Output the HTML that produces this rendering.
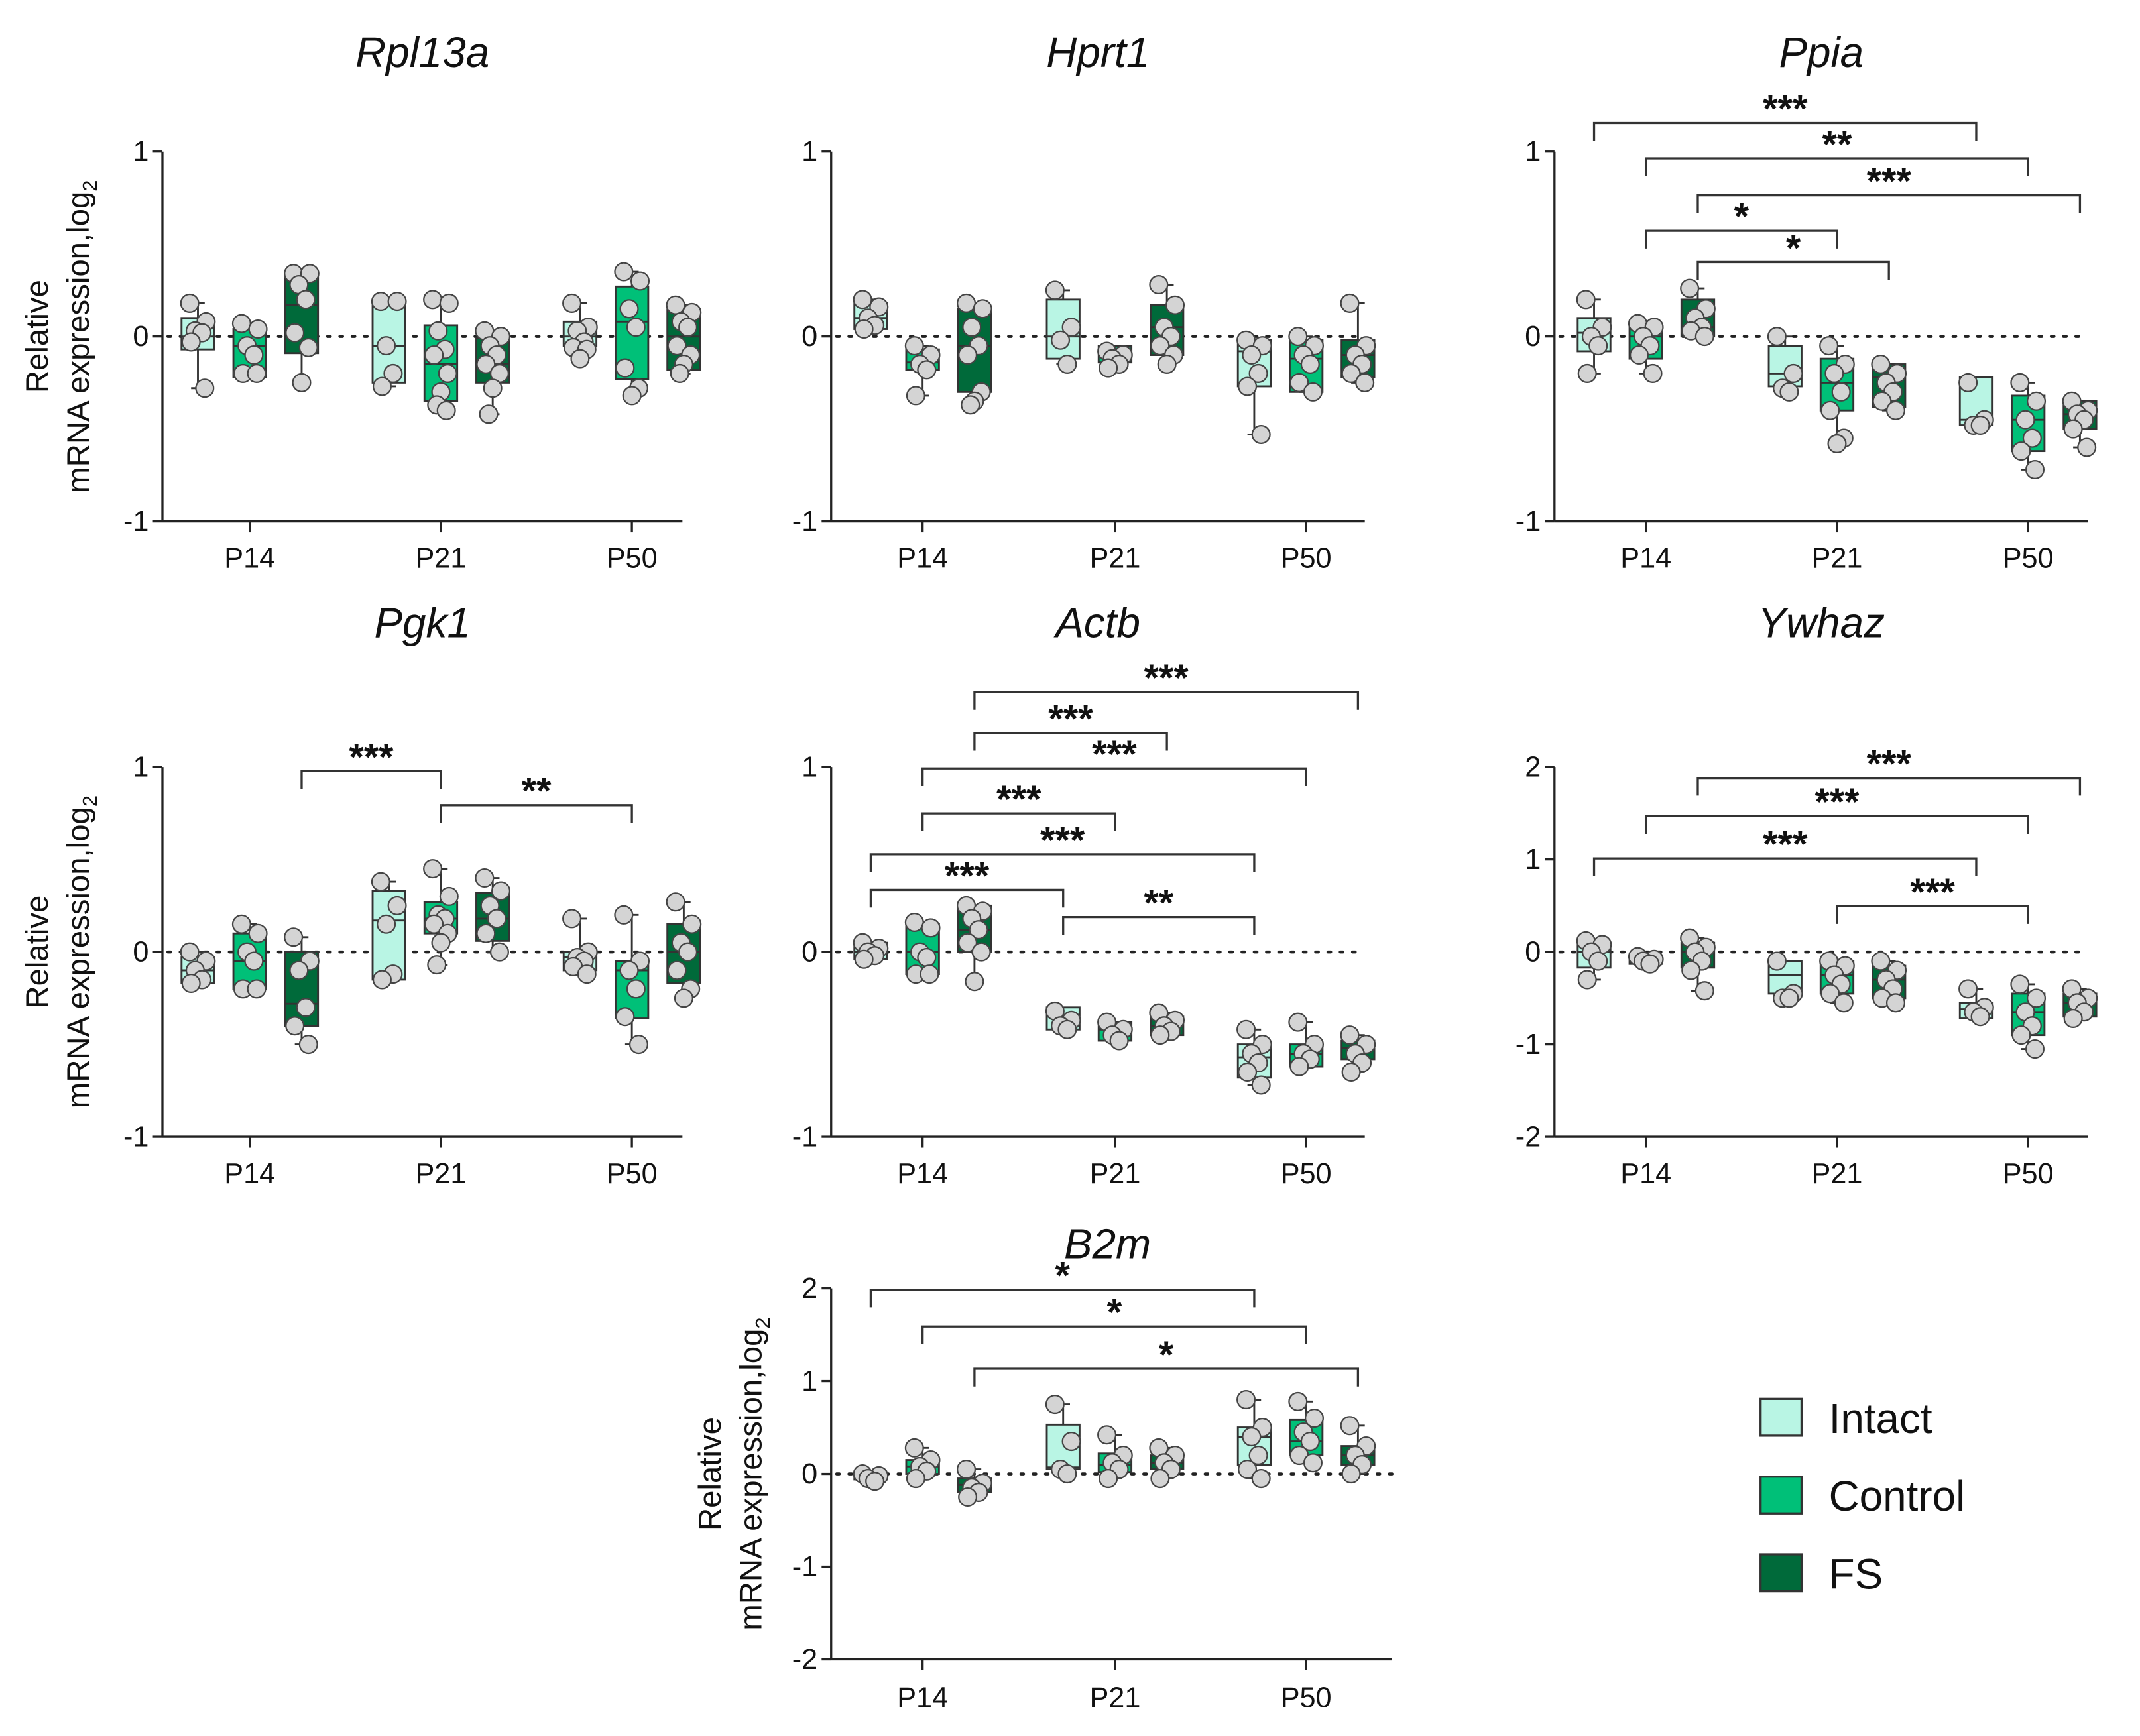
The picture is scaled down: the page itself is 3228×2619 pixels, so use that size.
<!DOCTYPE html>
<html><head><meta charset="utf-8">
<style>
html,body{margin:0;padding:0;background:#fff}
svg{display:block}
text{font-family:"Liberation Sans",Arial,sans-serif;fill:#111}
</style></head>
<body>
<svg id="fig" width="3228" height="2619" viewBox="0 0 1568 1272" xmlns="http://www.w3.org/2000/svg"></svg>
<script>
// ---------- data ----------
const categories = ["P14","P21","P50"];
const conditions = ["Intact","Control","FS"];
// boxes: [q1, median, q3] per (category x condition)
const rpl13aBoxes = [[-0.07,0.0,0.1],[-0.22,-0.05,0.04],[-0.09,0.17,0.33],[-0.25,-0.05,0.2],[-0.35,-0.15,0.06],[-0.25,-0.15,-0.01],[-0.05,0.0,0.08],[-0.23,0.08,0.27],[-0.18,0.0,0.15]];
const rpl13aPoints = [[0.18,0.08,0.03,0.02,-0.03,-0.28],[0.07,0.04,-0.05,-0.1,-0.2,-0.2],[0.34,0.34,0.28,0.2,0.02,-0.06,-0.25],[0.19,0.19,-0.05,-0.2,-0.27],[0.2,0.18,0.03,-0.07,-0.1,-0.2,-0.3,-0.37,-0.4],[0.03,0.0,-0.05,-0.1,-0.15,-0.2,-0.28,-0.42],[0.18,0.05,0.03,-0.03,-0.06,-0.07,-0.12],[0.35,0.3,0.15,0.05,-0.17,-0.28,-0.32],[0.17,0.13,0.08,0.05,-0.05,-0.1,-0.15,-0.2]];
const hprt1Boxes = [[0.04,0.1,0.18],[-0.18,-0.14,-0.07],[-0.3,-0.05,0.15],[-0.12,0.0,0.2],[-0.14,-0.1,-0.05],[-0.1,0.05,0.17],[-0.27,-0.08,-0.02],[-0.3,-0.12,-0.02],[-0.22,-0.1,-0.02]];
const hprt1Points = [[0.2,0.16,0.1,0.06,0.04],[-0.05,-0.1,-0.15,-0.18,-0.32],[0.18,0.15,0.05,-0.05,-0.1,-0.3,-0.35,-0.37],[0.25,0.05,-0.02,-0.15],[-0.08,-0.1,-0.12,-0.15,-0.17],[0.28,0.17,0.05,0.0,-0.05,-0.1,-0.15],[-0.02,-0.05,-0.1,-0.2,-0.27,-0.53],[0.0,-0.05,-0.1,-0.15,-0.25,-0.3],[0.18,-0.05,-0.1,-0.15,-0.2,-0.25]];
const ppiaBoxes = [[-0.08,0.02,0.1],[-0.12,0.0,0.07],[0.0,0.05,0.2],[-0.27,-0.2,-0.05],[-0.4,-0.25,-0.12],[-0.38,-0.22,-0.15],[-0.48,-0.45,-0.22],[-0.62,-0.45,-0.32],[-0.5,-0.42,-0.35]];
const ppiaPoints = [[0.2,0.05,0.0,-0.05,-0.2],[0.07,0.05,0.0,-0.05,-0.1,-0.2],[0.26,0.15,0.1,0.05,0.03,0.0],[0.0,-0.2,-0.28,-0.3],[-0.05,-0.15,-0.2,-0.3,-0.4,-0.55,-0.58],[-0.15,-0.2,-0.25,-0.3,-0.35,-0.4],[-0.25,-0.45,-0.48,-0.48],[-0.25,-0.35,-0.45,-0.55,-0.62,-0.72],[-0.35,-0.4,-0.42,-0.45,-0.5,-0.6]];
const pgk1Boxes = [[-0.17,-0.1,-0.03],[-0.2,-0.05,0.1],[-0.4,-0.28,0.0],[-0.15,0.17,0.33],[0.1,0.18,0.27],[0.06,0.18,0.32],[-0.1,-0.03,0.0],[-0.36,-0.1,-0.05],[-0.17,0.0,0.15]];
const pgk1Points = [[0.0,-0.05,-0.1,-0.15,-0.17],[0.15,0.1,0.0,-0.05,-0.2,-0.2],[0.08,-0.05,-0.1,-0.3,-0.4,-0.5],[0.38,0.25,0.15,-0.12,-0.15],[0.45,0.3,0.2,0.18,0.15,0.1,0.05,-0.07],[0.4,0.33,0.25,0.18,0.1,0.0],[0.18,0.0,-0.03,-0.05,-0.08,-0.12],[0.2,-0.05,-0.1,-0.2,-0.35,-0.5],[0.27,0.15,0.05,0.0,-0.1,-0.2,-0.25]];
const actbBoxes = [[-0.04,0.0,0.05],[-0.12,0.0,0.15],[0.0,0.12,0.25],[-0.42,-0.35,-0.3],[-0.48,-0.42,-0.38],[-0.45,-0.4,-0.35],[-0.68,-0.57,-0.5],[-0.62,-0.55,-0.5],[-0.58,-0.52,-0.48]];
const actbPoints = [[0.05,0.02,0.0,-0.02,-0.04],[0.16,0.13,0.0,-0.03,-0.12,-0.12],[0.25,0.22,0.18,0.12,0.05,0.0,-0.16],[-0.32,-0.37,-0.4,-0.42],[-0.38,-0.42,-0.45,-0.48],[-0.33,-0.37,-0.4,-0.43,-0.45],[-0.42,-0.5,-0.55,-0.6,-0.65,-0.72],[-0.38,-0.5,-0.55,-0.58,-0.62],[-0.45,-0.5,-0.55,-0.6,-0.65]];
const ywhazBoxes = [[-0.17,0.0,0.1],[-0.13,-0.08,-0.05],[-0.17,0.0,0.1],[-0.45,-0.25,-0.1],[-0.45,-0.25,-0.1],[-0.5,-0.3,-0.15],[-0.72,-0.62,-0.55],[-0.9,-0.65,-0.45],[-0.7,-0.55,-0.45]];
const ywhazPoints = [[0.12,0.08,0.0,-0.1,-0.3],[-0.05,-0.08,-0.1,-0.13],[0.15,0.05,0.0,-0.1,-0.2,-0.42],[-0.1,-0.45,-0.5,-0.5],[-0.1,-0.15,-0.25,-0.35,-0.45,-0.55],[-0.1,-0.2,-0.3,-0.4,-0.5,-0.55],[-0.4,-0.6,-0.65,-0.7],[-0.35,-0.5,-0.65,-0.8,-0.9,-1.05],[-0.4,-0.5,-0.55,-0.65,-0.72]];
const b2mBoxes = [[-0.06,-0.03,-0.02],[0.0,0.08,0.15],[-0.2,-0.12,-0.05],[0.05,0.07,0.53],[0.02,0.1,0.22],[0.05,0.12,0.2],[0.1,0.4,0.5],[0.2,0.35,0.58],[0.1,0.2,0.3]];
const b2mPoints = [[0.0,-0.02,-0.05,-0.08],[0.28,0.15,0.08,0.03,-0.05],[0.05,-0.1,-0.15,-0.2,-0.25],[0.75,0.35,0.05,0.0],[0.42,0.2,0.12,0.05,-0.05],[0.28,0.2,0.12,0.05,-0.05],[0.8,0.5,0.4,0.2,0.05,-0.05],[0.78,0.6,0.45,0.35,0.2,0.12],[0.52,0.3,0.2,0.1,0.0]];
const tickLabels1 = ["-1","0","1"];
const tickLabels2 = ["-2","-1","0","1","2"];
const ywhazTickLabels = ["-2","-1","0","1","2"];
// significance brackets: [fromIndex, toIndex, label] (index = category*3 + condition)
const ppiaSig = [[0,6,"***"],[1,7,"**"],[2,8,"***"],[1,4,"*"],[2,5,"*"]];
const pgk1Sig = [[2,4,"***"],[4,7,"**"]];
const actbSig = [[2,8,"***"],[2,5,"***"],[1,7,"***"],[1,4,"***"],[0,6,"***"],[0,3,"***"],[3,6,"**"]];
const ywhazSig = [[2,8,"***"],[1,7,"***"],[0,6,"***"],[4,7,"***"]];
const b2mSig = [[0,6,"*"],[1,7,"*"],[2,8,"*"]];

// ---------- layout ----------
const NS="http://www.w3.org/2000/svg";
const svg=document.getElementById('fig');
const fills=["#b9f5e4","#00c078","#006a3a"];
function mk(tag,attrs,parent){const e=document.createElementNS(NS,tag);for(const k in attrs)e.setAttribute(k,attrs[k]);(parent||svg).appendChild(e);return e;}

const panels=[
 {id:"rpl13a",title:"Rpl13a",ax:119,cx:[183,323,463],end:500,yT:111,yB:382,vmin:-1,vmax:1,ticks:tickLabels1,boxes:rpl13aBoxes,pts:rpl13aPoints,sig:[],tY:37,lY:408},
 {id:"hprt1",title:"Hprt1",ax:609,cx:[676,817,957],end:1000,yT:111,yB:382,vmin:-1,vmax:1,ticks:tickLabels1,boxes:hprt1Boxes,pts:hprt1Points,sig:[],tY:37,lY:408,noTitleY:true},
 {id:"ppia",title:"Ppia",ax:1139,cx:[1206,1346,1486],end:1530,yT:111,yB:382,vmin:-1,vmax:1,ticks:tickLabels1,boxes:ppiaBoxes,pts:ppiaPoints,sig:ppiaSig,sigY:[90,116,143,169,192],tY:37,lY:408,noTitleY:true},
 {id:"pgk1",title:"Pgk1",ax:119,cx:[183,323,463],end:500,yT:562,yB:833,vmin:-1,vmax:1,ticks:tickLabels1,boxes:pgk1Boxes,pts:pgk1Points,sig:pgk1Sig,sigY:[565,590],tY:455,lY:859},
 {id:"actb",title:"Actb",ax:609,cx:[676,817,957],end:1000,yT:562,yB:833,vmin:-1,vmax:1,ticks:tickLabels1,boxes:actbBoxes,pts:actbPoints,sig:actbSig,sigY:[507,537,563,596,626,652,672],tY:455,lY:859,noTitleY:true},
 {id:"ywhaz",title:"Ywhaz",ax:1139,cx:[1206,1346,1486],end:1530,yT:562,yB:833,vmin:-2,vmax:2,ticks:ywhazTickLabels,boxes:ywhazBoxes,pts:ywhazPoints,sig:ywhazSig,sigY:[570,598,629,664],tY:455,lY:859,noTitleY:true},
 {id:"b2m",title:"B2m",ax:609,cx:[676,817,957],end:1020,yT:944,yB:1216,vmin:-2,vmax:2,ticks:tickLabels2,boxes:b2mBoxes,pts:b2mPoints,sig:b2mSig,sigY:[945,972,1003],tY:910,lY:1243,ytx:[520,550]}
];
const offs=[-38,0,38];
const jit=[-6,6,-2,3,-5,5,0,-3,4];

panels.forEach(p=>{
  const g=mk('g',{});
  
  
  const y=v=>p.yB-(v-p.vmin)/(p.vmax-p.vmin)*(p.yB-p.yT);
  const bx=i=>p.cx[Math.floor(i/3)]+offs[i%3];
  const t=mk('text',{x:(p.ax+p.end)/2+(p.id==="b2m"?-3:0),y:p.tY+12,'text-anchor':'middle','font-size':31,'font-style':'italic'},g);
  t.textContent=p.title;
  
  if(!p.noTitleY){
    const tx=p.ytx||[27,57];
    const my=(p.yT+p.yB)/2;
    const a=mk('text',{x:0,y:0,transform:`translate(${tx[0]+8},${my}) rotate(-90)`,'text-anchor':'middle','font-size':23},g);
    a.textContent="Relative";
    
    const b=mk('text',{x:0,y:0,transform:`translate(${tx[1]+8},${my}) rotate(-90)`,'text-anchor':'middle','font-size':23},g);
    b.innerHTML='mRNA expression,log<tspan font-size="15" dy="6">2</tspan>';
    
  }
  const ya=mk('line',{x1:p.ax,y1:p.yT,x2:p.ax,y2:p.yB,stroke:'#222','stroke-width':1.6},g);
  
  const xa=mk('line',{x1:p.ax,y1:p.yB,x2:p.end,y2:p.yB,stroke:'#222','stroke-width':1.6},g);
  
  const n=p.ticks.length;
  p.ticks.forEach((lab,k)=>{
    const v=p.vmin+k*(p.vmax-p.vmin)/(n-1);
    mk('line',{x1:p.ax-7,y1:y(v),x2:p.ax,y2:y(v),stroke:'#222','stroke-width':1.6},g);
    const tl=mk('text',{x:p.ax-10,y:y(v)+7,'text-anchor':'end','font-size':21},g);
    tl.textContent=lab;
    
  });
  categories.forEach((c,k)=>{
    mk('line',{x1:p.cx[k],y1:p.yB,x2:p.cx[k],y2:p.yB+8,stroke:'#222','stroke-width':1.6},g);
    const cl=mk('text',{x:p.cx[k],y:p.lY+8,'text-anchor':'middle','font-size':21},g);
    cl.textContent=c;
    
  });
  const zl=mk('line',{x1:p.ax+4,y1:y(0),x2:p.end,y2:y(0),stroke:'#222','stroke-width':2.2,'stroke-dasharray':'2 7','stroke-linecap':'round'},g);
  
  p.boxes.forEach((b,i)=>{
    const x=bx(i);const pts=p.pts[i];
    const mx=Math.max(...pts),mn=Math.min(...pts);
    const bg=mk('g',{},g);
    
    
    mk('line',{x1:x,y1:y(mx),x2:x,y2:y(mn),stroke:'#333','stroke-width':1.4},bg);
    mk('line',{x1:x-5,y1:y(mx),x2:x+5,y2:y(mx),stroke:'#333','stroke-width':1.4},bg);
    mk('line',{x1:x-5,y1:y(mn),x2:x+5,y2:y(mn),stroke:'#333','stroke-width':1.4},bg);
    mk('rect',{x:x-12,y:y(b[2]),width:24,height:Math.max(1,y(b[0])-y(b[2])),fill:fills[i%3],stroke:'#333','stroke-width':1.4},bg);
    mk('line',{x1:x-12,y1:y(b[1]),x2:x+12,y2:y(b[1]),stroke:'#333','stroke-width':1.4},bg);
    pts.forEach((v,j)=>{
      const c=mk('circle',{cx:x+jit[j%jit.length],cy:y(v),r:6.5,fill:'#d4d4d4',stroke:'#444','stroke-width':1.1},bg);
      
    });
  });
  p.sig.forEach((s,k)=>{
    const x1=bx(s[0]),x2=bx(s[1]),yy=p.sigY[k];
    const sg=mk('g',{},g);
    
    mk('polyline',{points:`${x1},${yy+13} ${x1},${yy} ${x2},${yy} ${x2},${yy+13}`,fill:'none',stroke:'#333','stroke-width':1.6},sg);
    const st=mk('text',{x:(x1+x2)/2,y:yy-1,'text-anchor':'middle','font-size':28,'font-weight':'bold'},sg);
    st.textContent=s[2];
  });
});
const lg=mk('g',{});

conditions.forEach((c,i)=>{
  const yy=1025+i*57;
  const e=mk('g',{},lg);
  
  mk('rect',{x:1290,y:yy,width:30,height:27,fill:fills[i],stroke:'#333','stroke-width':1.6},e);
  const t=mk('text',{x:1340,y:yy+25,'font-size':31},e);t.textContent=c;
});
</script>
</body></html>
